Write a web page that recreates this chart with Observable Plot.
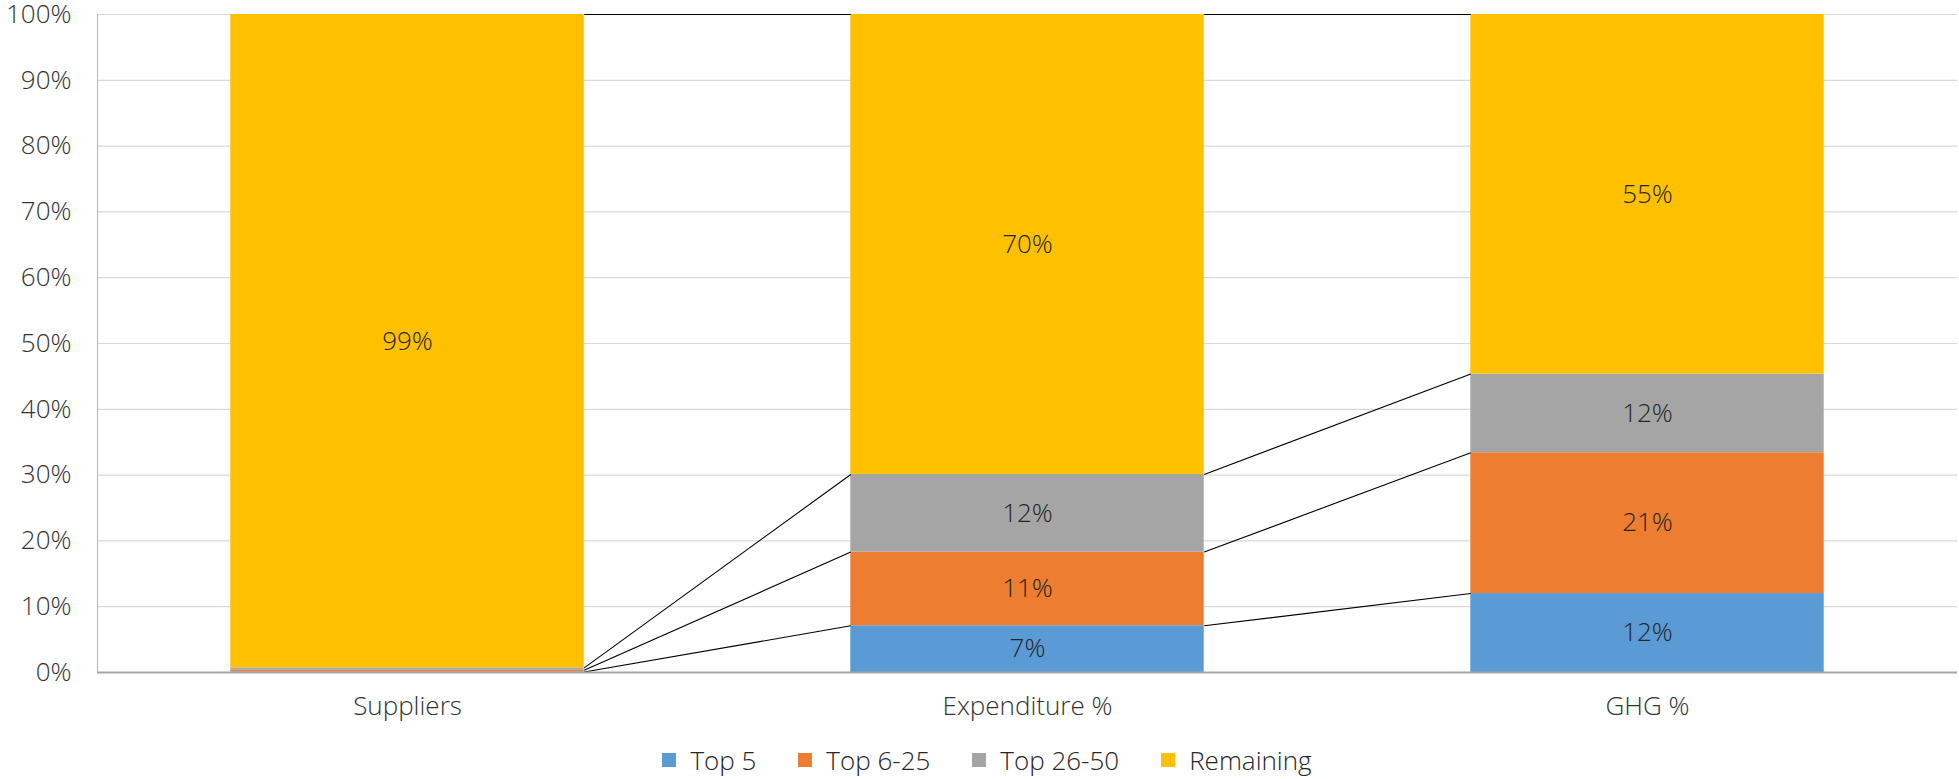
<!DOCTYPE html>
<html>
<head>
<meta charset="utf-8">
<script src="https://cdn.jsdelivr.net/npm/d3@7"></script>
<script src="https://cdn.jsdelivr.net/npm/@observablehq/plot@0.6"></script>
<style>
  body { margin: 0; padding-top: 8px; background: #fff; font-family: "Open Sans", sans-serif; }
  #legend { display: flex; justify-content: center; align-items: center; height: 40px; padding-left: 15px; font-size: 26px; font-weight: 300; color: #262626; }
  #legend .item { display: flex; align-items: center; margin: 0 21px; }
  #legend .sw { width: 14px; height: 14px; margin-right: 14px; }
</style>
</head>
<body>
<div id="chart"></div>
<div id="legend"></div>
<script>
const categories = ["Suppliers", "Expenditure %", "GHG %"];
const seriesNames = ["Top 5", "Top 6-25", "Top 26-50", "Remaining"];
const top5 = [0.07, 7.1, 12.0];
const top6to25 = [0.28, 11.2, 21.4];
const top26to50 = [0.35, 11.8, 11.95];
const remaining = [99.3, 69.9, 54.65];
const colors = ["#5B9BD5", "#ED7D31", "#A5A5A5", "#FFC000"];
const yTicks = [0, 10, 20, 30, 40, 50, 60, 70, 80, 90, 100];

const seriesValues = [top5, top6to25, top26to50, remaining];
const halfWidth = 0.285;

// Build stacked table
const rows = [];
categories.forEach((c, i) => {
  let base = 0;
  seriesValues.forEach((vals, s) => {
    const v = vals[i];
    rows.push({cat: i, series: seriesNames[s], value: v, y1: base, y2: base + v});
    base += v;
  });
});

// Series lines connecting tops of each series between adjacent bars
const links = [];
seriesNames.forEach((name, s) => {
  for (let i = 0; i < categories.length - 1; i++) {
    const a = rows.find(r => r.cat === i && r.series === name);
    const b = rows.find(r => r.cat === i + 1 && r.series === name);
    links.push({x1: i + halfWidth, y1: a.y2, x2: i + 1 - halfWidth, y2: b.y2});
  }
});

const chart = Plot.plot({
  width: 1959,
  height: 732,
  marginTop: 6,
  marginBottom: 68,
  marginLeft: 97,
  marginRight: 2,
  style: {fontFamily: "Open Sans", fontSize: "26px", fontWeight: 300, color: "#333", background: "#fff", overflow: "visible"},
  x: {type: "linear", domain: [-0.5, 2.5], axis: null},
  y: {domain: [0, 100], axis: null},
  color: {domain: seriesNames, range: colors},
  marks: [
    Plot.gridY(yTicks, {stroke: "#d9d9d9", strokeOpacity: 1, strokeWidth: 1.2}),
    Plot.axisY(yTicks, {tickSize: 0, tickPadding: 26, tickFormat: d => d + "%", fill: "#333", fontSize: 26}),
    Plot.axisX([0, 1, 2], {tickSize: 0, tickPadding: 24, tickFormat: i => categories[i], fill: "#333", fontSize: 26}),
    Plot.rect(rows, {x1: d => d.cat - halfWidth, x2: d => d.cat + halfWidth, y1: "y1", y2: "y2", fill: "series"}),
    Plot.link(links, {x1: "x1", y1: "y1", x2: "x2", y2: "y2", stroke: "#000", strokeWidth: 1.1}),
    Plot.ruleX([-0.5], {stroke: "#bfbfbf", strokeWidth: 1.2}),
    Plot.ruleY([0], {stroke: "#a6a6a6", strokeWidth: 2}),
    Plot.text(rows.filter(d => d.value >= 1), {x: "cat", y: d => (d.y1 + d.y2) / 2, text: d => Math.round(d.value) + "%", fill: "#262626", fontSize: 26})
  ]
});
document.getElementById("chart").appendChild(chart);

const legend = document.getElementById("legend");
seriesNames.forEach((name, s) => {
  const item = document.createElement("div");
  item.className = "item";
  const sw = document.createElement("div");
  sw.className = "sw";
  sw.style.background = colors[s];
  const label = document.createElement("span");
  label.textContent = name;
  item.appendChild(sw);
  item.appendChild(label);
  legend.appendChild(item);
});
</script>
</body>
</html>
